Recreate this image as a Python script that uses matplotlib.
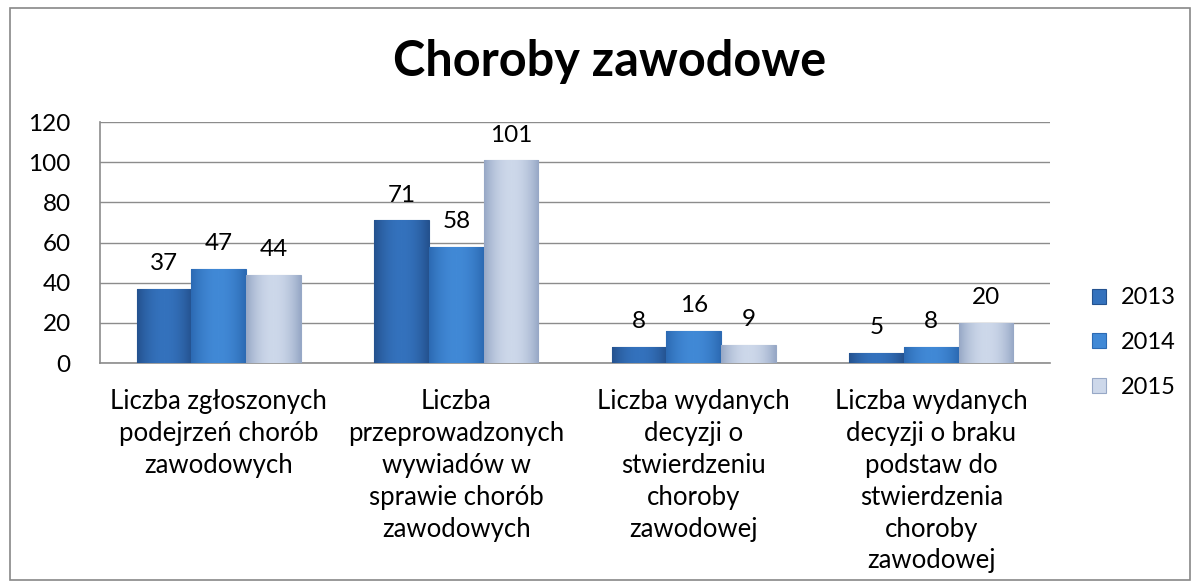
import numpy as np
import matplotlib.pyplot as plt
from matplotlib.patches import Rectangle
from matplotlib.colors import LinearSegmentedColormap

plt.rcParams['font.family'] = ['Lato', 'DejaVu Sans']

categories = ["Liczba zgłoszonych\npodejrzeń chorób\nzawodowych",
              "Liczba\nprzeprowadzonych\nwywiadów w\nsprawie chorób\nzawodowych",
              "Liczba wydanych\ndecyzji o\nstwierdzeniu\nchoroby\nzawodowej",
              "Liczba wydanych\ndecyzji o braku\npodstaw do\nstwierdzenia\nchoroby\nzawodowej"]
years = ["2013", "2014", "2015"]
v2013 = [37, 71, 8, 5]
v2014 = [47, 58, 16, 8]
v2015 = [44, 101, 9, 20]
# edge / middle colours for the shaded bars
shades = [("#24528f", "#3472bd"), ("#2c6ab3", "#4189d6"), ("#97a8c6", "#cdd8ea")]

fig = plt.figure(figsize=(11.97, 5.87), dpi=100)
fig.patches.append(Rectangle((10/1197, 1-580/587), 1180/1197, 572/587,
                             transform=fig.transFigure, fill=False,
                             edgecolor="#888888", lw=1.2))
ax = fig.add_axes([100/1197, 1-363/587, 950/1197, 241/587])

x = np.arange(len(categories))
w = 0.23
grad = np.abs(np.linspace(-1, 1, 64))[None, :] ** 2
for i, (vals, yr) in enumerate(zip([v2013, v2014, v2015], years)):
    cmap = LinearSegmentedColormap.from_list("s%d" % i, [shades[i][1], shades[i][0]])
    bars = ax.bar(x + (i-1)*w, vals, w, color=shades[i][1], edgecolor=shades[i][0],
                  lw=0.8, label=yr, zorder=3)
    for b, v in zip(bars, vals):
        im = ax.imshow(grad, cmap=cmap, aspect="auto", zorder=3.5,
                       extent=(b.get_x(), b.get_x() + b.get_width(), 0, v),
                       interpolation="bicubic")
        im.set_clip_path(b)
        ax.annotate(str(v), (b.get_x() + b.get_width()/2, v), xytext=(0, 18),
                    textcoords="offset points", ha="center", va="center",
                    fontsize=17.5, zorder=5)

ax.set_xlim(-0.5, 3.5)
ax.set_ylim(0, 120)
ax.set_yticks(range(0, 121, 20))
ax.yaxis.grid(True, color="#8c8c8c", lw=1, zorder=0)
ax.tick_params(axis="y", length=0, labelsize=17.5, pad=21)
ax.tick_params(axis="x", length=0, labelsize=18.5, pad=19)
ax.set_xticks(x)
ax.set_xticklabels(categories, linespacing=1.34, va="top")
for s in ["top", "right"]:
    ax.spines[s].set_visible(False)
for s in ["left", "bottom"]:
    ax.spines[s].set_color("#8c8c8c")
    ax.spines[s].set_linewidth(1.2)

fig.text(610/1197, 1-62/587, "Choroby zawodowe", ha="center", va="center",
         fontsize=35, fontweight="bold")
ax.legend(loc="center left", bbox_to_anchor=(1.022, 0.085), frameon=False,
          fontsize=17, handlelength=0.6, handleheight=0.6, labelspacing=1.0,
          handletextpad=0.6)

fig.savefig("out.png", dpi=100)
